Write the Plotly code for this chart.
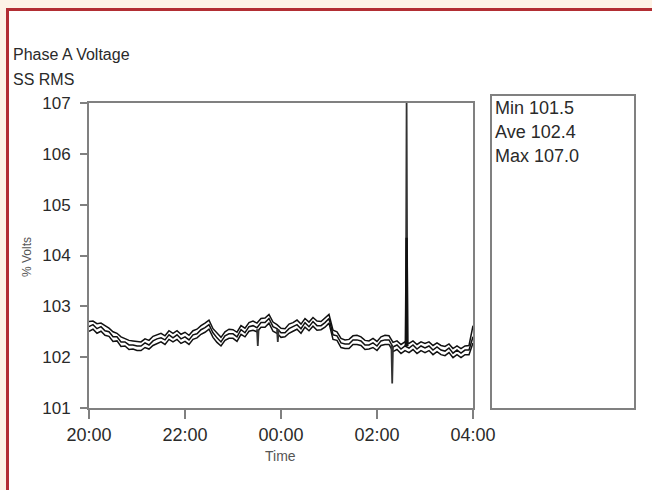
import pandas as pd
import plotly.graph_objects as go

# ---------------- data ----------------
times = pd.date_range("2024-01-01 20:00", "2024-01-02 04:00", freq="5min")

ave_volts = [
    102.60, 102.64, 102.56, 102.60, 102.52, 102.50, 102.40, 102.40, 102.30, 102.30, 102.24, 102.24,
    102.22, 102.22, 102.28, 102.24, 102.32, 102.36, 102.38, 102.34, 102.44, 102.38, 102.44, 102.36,
    102.40, 102.34, 102.44, 102.46, 102.54, 102.58, 102.64, 102.48, 102.38, 102.30, 102.42, 102.46,
    102.46, 102.40, 102.54, 102.48, 102.60, 102.62, 102.58, 102.68, 102.68, 102.76, 102.60, 102.56,
    102.48, 102.48, 102.56, 102.60, 102.64, 102.56, 102.68, 102.60, 102.70, 102.62, 102.62, 102.68,
    102.76, 102.44, 102.42, 102.28, 102.26, 102.26, 102.34, 102.34, 102.32, 102.24, 102.24, 102.28,
    102.22, 102.32, 102.34, 102.34, 102.20, 102.24, 102.16, 102.22, 102.18, 102.24, 102.16, 102.22,
    102.18, 102.22, 102.14, 102.20, 102.14, 102.12, 102.18, 102.08, 102.14, 102.08, 102.14, 102.14,
    102.40,
]
max_volts = [
    102.70, 102.71, 102.66, 102.67, 102.62, 102.57, 102.50, 102.47, 102.40, 102.37, 102.33, 102.32,
    102.31, 102.30, 102.36, 102.33, 102.41, 102.44, 102.47, 102.42, 102.52, 102.47, 102.52, 102.45,
    102.49, 102.43, 102.52, 102.55, 102.62, 102.67, 102.73, 102.56, 102.47, 102.39, 102.50, 102.55,
    102.54, 102.49, 102.62, 102.57, 102.68, 102.71, 102.67, 102.76, 102.77, 102.84, 102.69, 102.64,
    102.57, 102.56, 102.65, 102.68, 102.73, 102.65, 102.76, 102.69, 102.78, 102.71, 102.70, 102.77,
    102.84, 102.53, 102.50, 102.37, 102.34, 102.35, 102.42, 102.43, 102.40, 102.33, 102.32, 102.37,
    102.31, 102.40, 102.43, 102.42, 102.29, 102.32, 102.25, 102.30, 102.27, 102.32, 102.25, 102.30,
    102.27, 102.30, 102.23, 102.28, 102.23, 102.21, 102.26, 102.17, 102.22, 102.17, 102.22, 102.23,
    102.62,
]
min_volts = [
    102.51, 102.55, 102.47, 102.51, 102.43, 102.41, 102.31, 102.32, 102.21, 102.22, 102.15, 102.16,
    102.13, 102.13, 102.19, 102.16, 102.23, 102.27, 102.30, 102.25, 102.35, 102.30, 102.35, 102.27,
    102.31, 102.25, 102.35, 102.38, 102.45, 102.49, 102.55, 102.39, 102.29, 102.22, 102.33, 102.37,
    102.37, 102.31, 102.45, 102.40, 102.51, 102.53, 102.50, 102.59, 102.59, 102.67, 102.51, 102.47,
    102.39, 102.40, 102.47, 102.51, 102.55, 102.47, 102.59, 102.52, 102.61, 102.53, 102.54, 102.59,
    102.67, 102.35, 102.33, 102.19, 102.17, 102.17, 102.25, 102.25, 102.23, 102.15, 102.16, 102.19,
    102.13, 102.23, 102.25, 102.25, 102.11, 102.15, 102.07, 102.13, 102.09, 102.15, 102.07, 102.13,
    102.09, 102.13, 102.05, 102.11, 102.05, 102.03, 102.09, 101.99, 102.05, 101.99, 102.05, 102.05,
    102.28,
]

# short events (spike and dips), segments separated by None
event_times = ["2024-01-01 23:30", "2024-01-01 23:31", "2024-01-01 23:32", None,
               "2024-01-01 23:55", "2024-01-01 23:56", "2024-01-01 23:57", None,
               "2024-01-02 02:18", "2024-01-02 02:19", "2024-01-02 02:20", None,
               "2024-01-02 02:36", "2024-01-02 02:37", "2024-01-02 02:38"]
event_max = [102.55, 102.22, 102.55, None,
             102.55, 102.30, 102.55, None,
             102.25, 101.48, 102.22, None,
             102.26, 107.00, 102.26]
event_ave = [None, None, None, None,
             None, None, None, None,
             None, None, None, None,
             102.22, 104.35, 102.22]

y_ticks = [101, 102, 103, 104, 105, 106, 107]
stats_labels = ["Min", "Ave", "Max"]
stats_values = ["101.5", "102.4", "107.0"]

# ---------------- layout helpers ----------------
W, H = 652, 490
PL, PR, PT, PB = 89, 473, 103, 408  # plot area in pixels


def px_x(x):
    return (x - PL) / (PR - PL)


def px_y(y):
    return (PB - y) / (PB - PT)


FONT = "Liberation Sans, Arial, sans-serif"
TXT = "#2a2a2a"
LINE = "#111111"
AXIS = "#808080"

fig = go.Figure()
for series in (max_volts, ave_volts, min_volts):
    fig.add_trace(go.Scatter(x=times, y=series, mode="lines",
                             line=dict(color=LINE, width=1.5), hoverinfo="skip"))
fig.add_trace(go.Scatter(x=pd.to_datetime(event_times), y=event_max, mode="lines",
                         line=dict(color="#333333", width=1.8), connectgaps=False))
fig.add_trace(go.Scatter(x=pd.to_datetime(event_times), y=event_ave, mode="lines",
                         line=dict(color="#111111", width=2.4), connectgaps=False))

shapes = [
    # cream background strips and red frame
    dict(type="rect", xref="paper", yref="paper", x0=px_x(0), x1=px_x(W), y0=px_y(8), y1=px_y(0),
         fillcolor="#fdf3e6", line=dict(width=0), layer="above"),
    dict(type="rect", xref="paper", yref="paper", x0=px_x(0), x1=px_x(6), y0=px_y(H), y1=px_y(0),
         fillcolor="#fdf3e6", line=dict(width=0), layer="above"),
    dict(type="rect", xref="paper", yref="paper", x0=px_x(6), x1=px_x(W), y0=px_y(11), y1=px_y(8),
         fillcolor="#b22e33", line=dict(width=0)),
    dict(type="rect", xref="paper", yref="paper", x0=px_x(6), x1=px_x(9), y0=px_y(H), y1=px_y(8),
         fillcolor="#b22e33", line=dict(width=0)),
    # stats box
    dict(type="rect", xref="paper", yref="paper", x0=px_x(491), x1=px_x(635), y0=px_y(409), y1=px_y(95),
         line=dict(color=AXIS, width=2), fillcolor="rgba(0,0,0,0)"),
]

annotations = [
    dict(text="Phase A Voltage", x=px_x(11), y=px_y(55), xref="paper", yref="paper",
         xanchor="left", yanchor="middle", showarrow=False, font=dict(family=FONT, size=16, color=TXT)),
    dict(text="SS RMS", x=px_x(11), y=px_y(79), xref="paper", yref="paper",
         xanchor="left", yanchor="middle", showarrow=False, font=dict(family=FONT, size=16, color=TXT)),
    dict(text="% Volts", x=px_x(27), y=px_y(257), xref="paper", yref="paper", textangle=-90,
         xanchor="center", yanchor="middle", showarrow=False, font=dict(family=FONT, size=12, color="#555")),
    dict(text="Time", x=px_x(280), y=px_y(456), xref="paper", yref="paper",
         xanchor="center", yanchor="middle", showarrow=False, font=dict(family=FONT, size=14, color="#555")),
]
for i, (lab, val) in enumerate(zip(stats_labels, stats_values)):
    annotations.append(dict(text=f"{lab} {val}", x=px_x(493), y=px_y(108 + 24 * i), xref="paper", yref="paper",
                            xanchor="left", yanchor="middle", showarrow=False,
                            font=dict(family=FONT, size=18, color=TXT)))

fig.update_layout(
    width=W, height=H,
    margin=dict(l=PL, r=W - PR, t=PT, b=H - PB, pad=0),
    paper_bgcolor="white", plot_bgcolor="white",
    showlegend=False,
    shapes=shapes, annotations=annotations,
    font=dict(family=FONT, color=TXT),
)
fig.update_xaxes(
    range=["2024-01-01 20:00", "2024-01-02 04:00"],
    tickformat="%H:%M", dtick=2 * 3600 * 1000, tick0="2024-01-01 20:00",
    showgrid=False, zeroline=False,
    showline=True, linecolor=AXIS, linewidth=2, mirror=True,
    ticks="outside", ticklen=9, tickwidth=2, tickcolor=AXIS,
    ticklabelstandoff=0,
    tickfont=dict(family=FONT, size=18, color=TXT),
)
fig.update_yaxes(
    range=[101, 107], tickvals=y_ticks,
    showgrid=False, zeroline=False,
    showline=True, linecolor=AXIS, linewidth=2, mirror=True,
    ticks="outside", ticklen=7, tickwidth=2, tickcolor=AXIS,
    ticklabelstandoff=6,
    tickfont=dict(family=FONT, size=17, color=TXT),
)

fig.write_html("out.html", config={"displayModeBar": False},
               post_script="document.body.style.margin='0';document.body.style.padding='0';")
